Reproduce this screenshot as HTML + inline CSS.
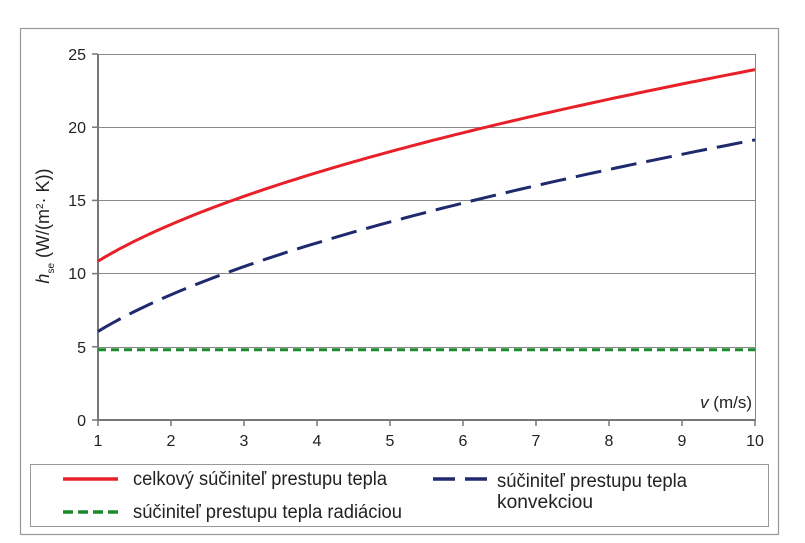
<!DOCTYPE html>
<html><head><meta charset="utf-8"><style>
html,body{margin:0;padding:0;background:#fff;}
svg{display:block;font-family:"Liberation Sans",sans-serif;}
</style></head><body>
<svg id="s" width="805" height="543" viewBox="0 0 805 543" xmlns="http://www.w3.org/2000/svg">
<rect x="20.5" y="28.5" width="758" height="506" fill="#fff" stroke="#999" stroke-width="1.2"/>
<g stroke="#888" stroke-width="1">
<line x1="98" y1="54.5" x2="756" y2="54.5"/>
<line x1="98" y1="127.5" x2="756" y2="127.5"/>
<line x1="98" y1="200.5" x2="756" y2="200.5"/>
<line x1="98" y1="273.5" x2="756" y2="273.5"/>
<line x1="98" y1="347.5" x2="756" y2="347.5"/>
<line x1="755.5" y1="54" x2="755.5" y2="420"/>
</g>
<g stroke="#777" stroke-width="2">
<line x1="98" y1="54" x2="98" y2="421"/>
<line x1="97" y1="420" x2="756" y2="420"/>
</g>
<g id="ticks" stroke="#777" stroke-width="1.5"></g>
<g font-size="16" fill="#222" text-anchor="end">
<text x="86" y="60">25</text><text x="86" y="133">20</text><text x="86" y="206">15</text>
<text x="86" y="279">10</text><text x="86" y="353">5</text><text x="86" y="426">0</text>
</g>
<g id="xl" font-size="16" fill="#222" text-anchor="middle"></g>
<text x="752" y="408" font-size="17" fill="#222" text-anchor="end"><tspan font-style="italic">v</tspan> (m/s)</text>
<text transform="translate(49,226) rotate(-90)" font-size="18" fill="#222" text-anchor="middle"><tspan font-style="italic">h</tspan><tspan font-size="10" dy="5">se</tspan><tspan dy="-5"> (W/(m</tspan><tspan font-size="10" dy="-6">2</tspan><tspan dy="6">· K))</tspan></text>
<path id="g" d="M98,349.7 L755,349.7" stroke="#1a8a2a" stroke-width="3" fill="none" stroke-dasharray="8,5"/>
<path id="b" stroke="#1f2a6e" stroke-width="3" fill="none" stroke-dasharray="26,10"/>
<path id="r" stroke="#e8202a" stroke-width="3" fill="none"/>
<rect x="30.5" y="464.5" width="738" height="62" fill="#fff" stroke="#999" stroke-width="1"/>
<line x1="63" y1="479" x2="118" y2="479" stroke="#e8202a" stroke-width="3.5"/>
<line x1="63" y1="512" x2="118" y2="512" stroke="#1a8a2a" stroke-width="3.5" stroke-dasharray="10,5"/>
<line x1="433" y1="479" x2="487" y2="479" stroke="#1f2a6e" stroke-width="3.5" stroke-dasharray="22,10"/>
<g font-size="19" fill="#222">
<text x="133" y="485" textLength="254" lengthAdjust="spacingAndGlyphs">celkový súčiniteľ prestupu tepla</text>
<text x="133" y="518" textLength="269" lengthAdjust="spacingAndGlyphs">súčiniteľ prestupu tepla radiáciou</text>
<text x="497" y="487" textLength="190" lengthAdjust="spacingAndGlyphs">súčiniteľ prestupu tepla</text>
<text x="497" y="508" textLength="96" lengthAdjust="spacingAndGlyphs">konvekciou</text>
</g>
</svg>
<script>
var X=function(v){return 98+(v-1)*73;},Y=function(h){return 420-h*14.64;};
var r="",b="";
for(var i=0;i<=90;i++){var v=1+i*0.1;var c=6.05*Math.sqrt(v);
r+=(i?"L":"M")+X(v).toFixed(1)+","+Y(c+4.8).toFixed(1);
b+=(i?"L":"M")+X(v).toFixed(1)+","+Y(c).toFixed(1);}
document.getElementById("r").setAttribute("d",r);
document.getElementById("b").setAttribute("d",b);
var t="",l="";
for(var k=1;k<=10;k++){t+='<line x1="'+X(k)+'" y1="420" x2="'+X(k)+'" y2="426"/>';
l+='<text x="'+X(k)+'" y="446">'+k+'</text>';}
var ns=document.getElementById("ticks");
var yt="";for(var j=0;j<=5;j++){var y=Y(j*5);yt+='<line x1="92" y1="'+y+'" x2="98" y2="'+y+'"/>';}
ns.innerHTML=t+yt;
document.getElementById("xl").innerHTML=l;
</script>
</body></html>
